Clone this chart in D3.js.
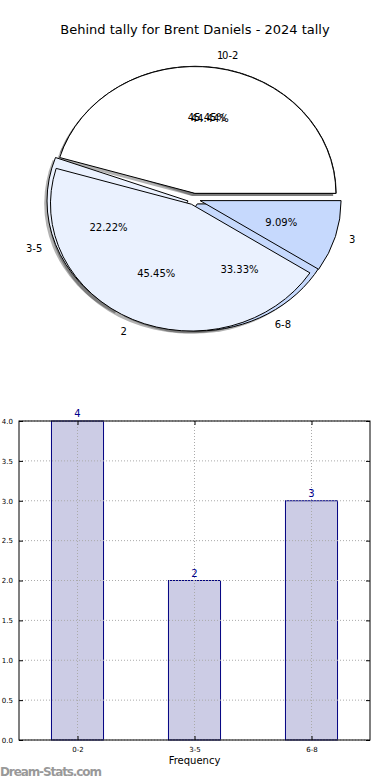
<!DOCTYPE html>
<html>
<head>
<meta charset="utf-8">
<script src="https://cdn.jsdelivr.net/npm/d3@7"></script>
<style>
  body { margin: 0; background: #fff; }
  svg { display: block; font-family: "DejaVu Sans", sans-serif; }
</style>
</head>
<body>
<svg id="chart" width="390" height="780"></svg>
<script>
// pie 1 (underneath): frequency of behind tallies by range
const freqCats = ["0-2", "3-5", "6-8"];
const freqVals = [4, 2, 3];
// pie 2 (on top): tally counts
const tallyCats = ["1", "2", "3"];
const tallyVals = [5, 5, 1];
const sliceColors = ["#ffffff", "#eaf1fe", "#c6d9fd"];
// bar chart ticks
const yTicks = [0, 0.5, 1, 1.5, 2, 2.5, 3, 3.5, 4];

const svg = d3.select("#chart");

svg.append("text")
  .attr("x", 195).attr("y", 34)
  .attr("text-anchor", "middle")
  .style("font-size", "13px")
  .text("Behind tally for Brent Daniels - 2024 tally");

// ---- Pie (elliptical, matplotlib style, counter-clockwise from 3 o'clock)
const cx = 194, cy = 199, rx = 141, ry = 127, explode = 0.045;

const pie = d3.pie().sort(null).startAngle(Math.PI / 2).endAngle(Math.PI / 2 - 2 * Math.PI);
const arc = d3.arc().innerRadius(0).outerRadius(1);

const pieG = svg.append("g");
const shadowG = pieG.append("g");
const wedgeG = pieG.append("g");
const textG = pieG.append("g");

function drawPie(cats, vals) {
  const total = d3.sum(vals);
  const arcs = pie(vals);
  arcs.forEach((a, i) => {
    const mid = (a.startAngle + a.endAngle) / 2;
    const ux = Math.sin(mid), uy = -Math.cos(mid);
    const ox = cx + explode * rx * ux, oy = cy + explode * ry * uy;

    shadowG.append("path")
      .attr("d", arc(a))
      .attr("transform", `translate(${ox - 0.02 * rx},${oy + 0.02 * ry}) scale(${rx},${ry})`)
      .attr("fill", "#000")
      .attr("opacity", 0.3);

    wedgeG.append("path")
      .attr("d", arc(a))
      .attr("transform", `translate(${ox},${oy}) scale(${rx},${ry})`)
      .attr("fill", sliceColors[i])
      .attr("stroke", "#000")
      .attr("stroke-width", 1)
      .attr("vector-effect", "non-scaling-stroke");

    textG.append("text")
      .attr("x", ox + 1.1 * rx * ux)
      .attr("y", oy + 1.1 * ry * uy)
      .attr("dy", "0.35em")
      .attr("text-anchor", ux < 0 ? "end" : "start")
      .style("font-size", "10px")
      .text(cats[i]);

    textG.append("text")
      .attr("x", ox + 0.6 * rx * ux)
      .attr("y", oy + 0.6 * ry * uy)
      .attr("dy", "0.35em")
      .attr("text-anchor", "middle")
      .style("font-size", "10px")
      .text((vals[i] / total * 100).toFixed(2) + "%");
  });
}

drawPie(freqCats, freqVals);
drawPie(tallyCats, tallyVals);

// ---- Bar chart
const margin = {top: 421, right: 20, bottom: 40, left: 19};
const w = 390 - margin.left - margin.right, h = 780 - margin.top - margin.bottom;

const g = svg.append("g").attr("transform", `translate(${margin.left},${margin.top})`);

const x = d3.scalePoint().domain(freqCats).range([0, w]).padding(0.5);
const y = d3.scaleLinear().domain([0, 4]).range([h, 0]);
const barW = x.step() * 0.445;

g.selectAll(".bar")
  .data(freqVals)
  .join("rect")
  .attr("class", "bar")
  .attr("x", (d, i) => x(freqCats[i]) - barW / 2)
  .attr("y", d => y(d))
  .attr("width", barW)
  .attr("height", d => h - y(d))
  .attr("fill", "#ccccE5")
  .attr("stroke", "#000080")
  .attr("stroke-width", 1);

// grid (dotted, over the bars)
g.selectAll(".hgrid")
  .data(yTicks)
  .join("line")
  .attr("x1", 0).attr("x2", w)
  .attr("y1", d => y(d)).attr("y2", d => y(d))
  .attr("stroke", "#aaa")
  .attr("stroke-dasharray", "1,2");

g.selectAll(".vgrid")
  .data(freqCats)
  .join("line")
  .attr("x1", d => x(d)).attr("x2", d => x(d))
  .attr("y1", 0).attr("y2", h)
  .attr("stroke", "#aaa")
  .attr("stroke-dasharray", "1,2");

// value labels
g.selectAll(".val")
  .data(freqVals)
  .join("text")
  .attr("x", (d, i) => x(freqCats[i]))
  .attr("y", d => y(d) - 4)
  .attr("text-anchor", "middle")
  .attr("fill", "#00008b")
  .style("font-size", "10px")
  .text(d => d);

// axes with inward ticks
const yAxis = g.append("g").call(d3.axisLeft(y).tickValues(yTicks).tickFormat(d3.format(".1f")).tickSizeInner(-4).tickSizeOuter(0).tickPadding(6));
const yAxisR = g.append("g").attr("transform", `translate(${w},0)`).call(d3.axisRight(y).tickValues(yTicks).tickFormat("").tickSizeInner(-4).tickSizeOuter(0));
const xAxis = g.append("g").attr("transform", `translate(0,${h})`).call(d3.axisBottom(x).tickSizeInner(-4).tickSizeOuter(0).tickPadding(7));
const xAxisT = g.append("g").call(d3.axisTop(x).tickFormat("").tickSizeInner(-4).tickSizeOuter(0));

[yAxis, yAxisR, xAxis, xAxisT].forEach(a => {
  a.select(".domain").remove();
  a.selectAll("line").attr("stroke", "#000");
  a.selectAll("text").style("font-size", "7px").style("font-family", "DejaVu Sans, sans-serif").attr("fill", "#000");
});

g.append("rect")
  .attr("width", w).attr("height", h)
  .attr("fill", "none")
  .attr("stroke", "#000")
  .attr("stroke-width", 1);

svg.append("text")
  .attr("x", margin.left + w / 2).attr("y", 764)
  .attr("text-anchor", "middle")
  .style("font-size", "10px")
  .text("Frequency");

svg.append("text")
  .attr("x", 0).attr("y", 776)
  .attr("fill", "#999")
  .style("font-size", "12px")
  .style("font-family", "'DejaVu Sans', sans-serif")
  .style("font-weight", "bold")
  .attr("textLength", 102)
  .text("Dream-Stats.com");
</script>
</body>
</html>
